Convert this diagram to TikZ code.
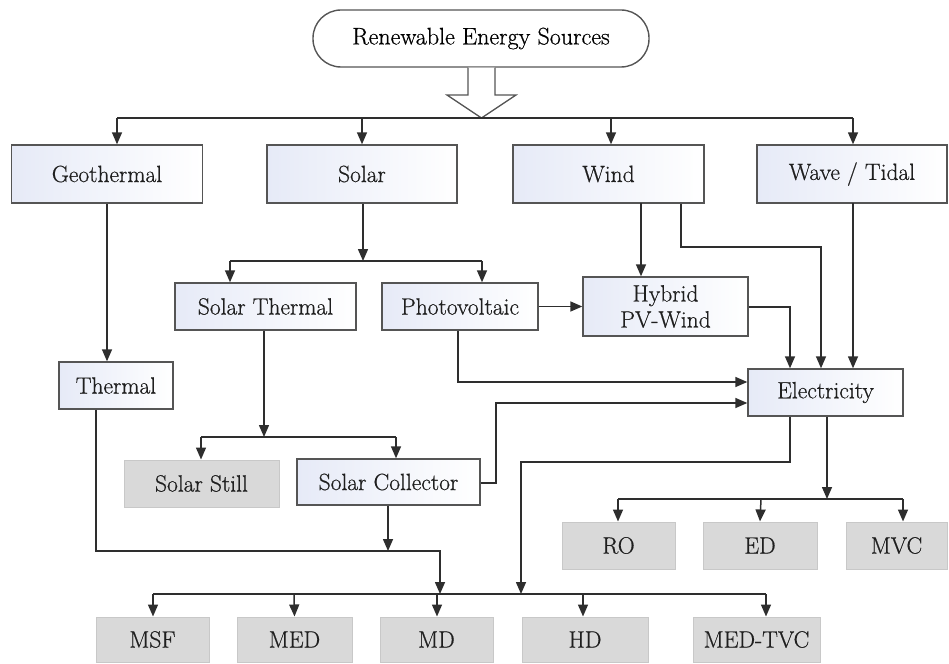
\documentclass[tikz,border=0pt]{standalone}
\usepackage{fontspec}
\newfontfamily\boxfont{Latin Modern Roman}[FakeBold=0.6]
\usetikzlibrary{arrows.meta}
\definecolor{lineclr}{HTML}{2E2E2E}
\definecolor{boxline}{HTML}{555555}
\definecolor{lav}{HTML}{E6EAF7}
\definecolor{greyfill}{HTML}{D9D9D9}
\definecolor{greyline}{HTML}{C8C8C8}
\tikzset{
  txt/.style={font=\boxfont\fontsize{23.5}{26}\selectfont, text=black!88, inner sep=0pt, align=center},
  wbox/.style={txt, rectangle, draw=boxline, line width=1.4pt, left color=lav, right color=white},
  gbox/.style={txt, rectangle, draw=greyline, line width=1pt, fill=greyfill},
  conn/.style={draw=lineclr, line width=1.5pt},
  arr/.style={conn, -{Triangle[length=12pt,width=10pt]}},
}
\begin{document}
\begin{tikzpicture}[x=1pt,y=-1pt]
\useasboundingbox (0,0) rectangle (949,663);

% top node
\node[txt, font=\boxfont\fontsize{24}{26}\selectfont, text=black, draw=boxline, line width=1.4pt, fill=white, rounded corners=28pt,
  minimum width=336pt, minimum height=57pt] (res) at (481,38.5) {Renewable Energy Sources};
\draw[draw=boxline, line width=1.3pt, fill=white]
  (res.south -| 468,0) -- (468,95) -- (447,95) -- (481.5,118) -- (516,95) -- (495,95) -- (res.south -| 495,0);

% first row
\node[wbox, minimum width=191pt, minimum height=58pt] (geo) at (107,174) {Geothermal};
\node[wbox, minimum width=190pt, minimum height=58pt] (solar) at (362,174) {Solar};
\node[wbox, minimum width=191pt, minimum height=58pt] (wind) at (608.5,174) {Wind};
\node[wbox, minimum width=190pt, minimum height=58pt] (wave) at (852,174) {Wave / Tidal};

% second row
\node[wbox, minimum width=181pt, minimum height=47pt] (sth) at (265.5,306.5) {Solar Thermal};
\node[wbox, minimum width=156pt, minimum height=47pt] (pv) at (460,306.5) {Photovoltaic};
\node[wbox, minimum width=165pt, minimum height=59pt] (hyb) at (665.5,306.5) {Hybrid\\PV-Wind};
\node[wbox, minimum width=114pt, minimum height=47pt] (thermal) at (116,385.5) {Thermal};
\node[wbox, minimum width=155pt, minimum height=47pt] (elec) at (825.5,392.5) {Electricity};
\node[gbox, minimum width=155pt, minimum height=47pt] (still) at (201.5,483.5) {Solar Still};
\node[wbox, minimum width=183pt, minimum height=46pt] (coll) at (388.5,482) {Solar Collector};

% electricity outputs
\node[gbox, minimum width=113pt, minimum height=47pt] (ro) at (618.5,545.5) {RO};
\node[gbox, minimum width=114pt, minimum height=47pt] (ed) at (760,545.5) {ED};
\node[gbox, minimum width=101pt, minimum height=47pt] (mvc) at (896.5,545.5) {MVC};

% bottom row
\node[gbox, minimum width=113pt, minimum height=45pt] (msf) at (152.5,639.5) {MSF};
\node[gbox, minimum width=115pt, minimum height=45pt] (med) at (294.5,639.5) {MED};
\node[gbox, minimum width=113pt, minimum height=45pt] (md) at (436.5,639.5) {MD};
\node[gbox, minimum width=126pt, minimum height=45pt] (hd) at (585,639.5) {HD};
\node[gbox, minimum width=127pt, minimum height=45pt] (medtvc) at (756.5,639.5) {MED-TVC};

% bus 1
\coordinate (b1g) at (117,118);
\coordinate (b1s) at (362,118);
\coordinate (b1w) at (611,118);
\coordinate (b1t) at (853,118);
\draw[conn] (b1g) -- (b1t);
\draw[arr] (b1g) -- (b1g |- geo.north);
\draw[arr] (b1s) -- (b1s |- solar.north);
\draw[arr] (b1w) -- (b1w |- wind.north);
\draw[arr] (b1t) -- (b1t |- wave.north);

% geothermal -> thermal
\draw[arr] (geo.south) -- (geo.south |- thermal.north);

% solar split
\coordinate (b2) at (363,261);
\coordinate (b2l) at (230,261);
\coordinate (b2r) at (482,261);
\draw[arr] (b2 |- solar.south) -- (b2);
\draw[conn] (b2l) -- (b2r);
\draw[arr] (b2l) -- (b2l |- sth.north);
\draw[arr] (b2r) -- (b2r |- pv.north);

% wind
\coordinate (w1) at (641,203);
\draw[arr] (w1) -- (w1 |- hyb.north);
\coordinate (w2) at (681,247);
\coordinate (w3) at (821,247);
\draw[arr] (w2 |- wind.south) -- (w2) -- (w3) -- (w3 |- elec.north);
\coordinate (t1) at (853,203);
\draw[arr] (t1) -- (t1 |- elec.north);

% pv -> hybrid
\draw[arr] (pv.east) -- (hyb.west |- pv.east);

% hybrid -> electricity
\coordinate (h1) at (790,307);
\draw[arr] (hyb.east |- h1) -- (h1) -- (h1 |- elec.north);

% pv -> electricity
\coordinate (p1) at (458,382);
\draw[arr] (p1 |- pv.south) -- (p1) -- (elec.west |- p1);

% collector -> electricity
\coordinate (c1) at (496,483);
\coordinate (c2) at (496,403);
\draw[arr] (coll.east |- c1) -- (c1) -- (c2) -- (elec.west |- c2);

% solar thermal split
\coordinate (b3) at (264,437);
\coordinate (b3l) at (201,437);
\coordinate (b3r) at (396,437);
\draw[arr] (b3 |- sth.south) -- (b3);
\draw[conn] (b3l) -- (b3r);
\draw[arr] (b3l) -- (b3l |- still.north);
\draw[arr] (b3r) -- (b3r |- coll.north);

% thermal & collector -> bottom bus
\coordinate (th1) at (96,551);
\coordinate (th2) at (440,551);
\coordinate (b4) at (440,594);
\draw[arr] (th1 |- thermal.south) -- (th1) -- (th2) -- (b4);
\coordinate (cl1) at (388,551);
\draw[arr] (cl1 |- coll.south) -- (cl1);

% bottom bus
\coordinate (b4l) at (153,594);
\coordinate (b4r) at (766,594);
\draw[conn] (b4l) -- (b4r);
\draw[arr] (b4l) -- (b4l |- msf.north);
\draw[arr] (294,594) -- (med.north);
\draw[arr] (437,594) -- (437,0 |- md.north);
\draw[arr] (583,594) -- (583,0 |- hd.north);
\draw[arr] (b4r) -- (b4r |- medtvc.north);

% electricity -> bottom bus
\coordinate (e1) at (790,462);
\coordinate (e2) at (521,462);
\coordinate (e3) at (521,594);
\draw[arr] (e1 |- elec.south) -- (e1) -- (e2) -- (e3);

% electricity -> RO / ED / MVC
\coordinate (b5) at (827,499);
\coordinate (b5l) at (618,499);
\coordinate (b5r) at (903,499);
\draw[arr] (b5 |- elec.south) -- (b5);
\draw[conn] (b5l) -- (b5r);
\draw[arr] (b5l) -- (b5l |- ro.north);
\draw[arr] (761,499) -- (ed.north);
\draw[arr] (b5r) -- (b5r |- mvc.north);
\end{tikzpicture}
\end{document}
